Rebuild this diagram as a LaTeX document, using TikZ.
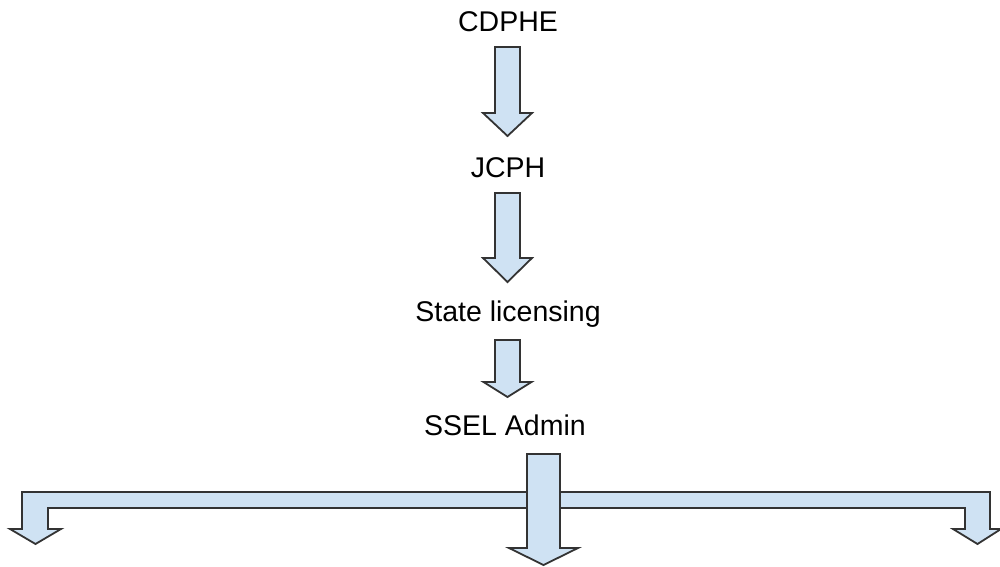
\documentclass[tikz,border=0pt]{standalone}
\usepackage{fontspec}
\setmainfont{Liberation Sans}
\usetikzlibrary{positioning}
\definecolor{arrowfill}{HTML}{CFE2F3}
\definecolor{arrowline}{HTML}{333333}
\tikzset{
	lbl/.style={font=\fontsize{28.5}{34}\selectfont, anchor=base, inner sep=0pt},
	blk/.style={draw=arrowline, fill=arrowfill, line width=1.8pt, line join=miter},
}
% block arrow: x, top, head start, tip, half shaft, half head
\newcommand{\blkarrow}[6]{%
	\draw[blk] (#1-#5,#2) -- (#1+#5,#2) -- (#1+#5,#3) -- (#1+#6,#3) -- (#1,#4)
	-- (#1-#6,#3) -- (#1-#5,#3) -- cycle;}

\begin{document}
\begin{tikzpicture}[x=1pt, y=-1pt]
		\useasboundingbox (0,0) rectangle (1000,566);
		\node[lbl] (cdphe) at (508,31) {CDPHE}; \node[lbl] (jcph) at (508,177)
		{JCPH}; \node[lbl] (state) at (508,321) {State licensing}; \node[lbl]
		(ssel) at (505,435) {SSEL Admin};
		\blkarrow{507.5}{47}{113}{136}{12.5}{24.5}
		\blkarrow{507.5}{193}{258}{282}{12.5}{24.5}
		\blkarrow{507.5}{340}{382}{397}{12.5}{24}
		% branch bar
		\draw[blk] (22,492) -- (990,492) -- (990,529) -- (1001,529) -- (977.5,544)
		-- (953,529) -- (965,529) -- (965,508) -- (48,508) -- (48,529) -- (61,529)
		-- (35.5,544) -- (10,529) -- (22,529) -- cycle;
		\blkarrow{543.5}{454}{548}{565}{16.5}{34.5}
	\end{tikzpicture}
\end{document}
